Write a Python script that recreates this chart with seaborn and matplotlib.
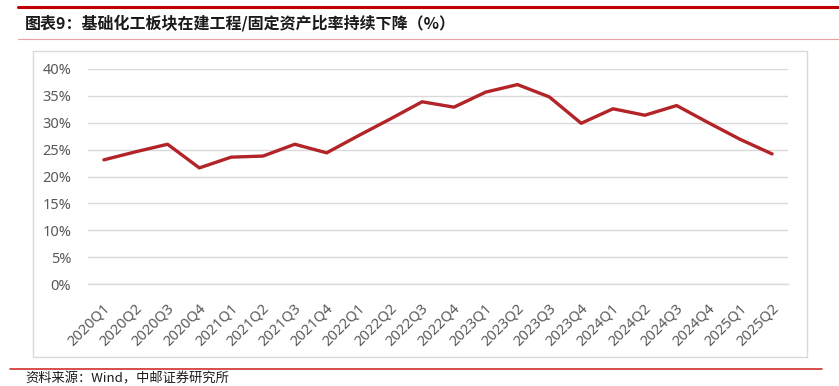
import matplotlib
matplotlib.use('Agg')
import matplotlib.pyplot as plt
import matplotlib.transforms as mtransforms
from matplotlib.patches import Rectangle
from matplotlib.lines import Line2D
from matplotlib.ticker import FuncFormatter, FixedLocator
import seaborn as sns
import pandas as pd

# 数据：基础化工板块在建工程/固定资产比率（%）
quarters = ['2020Q1', '2020Q2', '2020Q3', '2020Q4', '2021Q1', '2021Q2', '2021Q3', '2021Q4',
            '2022Q1', '2022Q2', '2022Q3', '2022Q4', '2023Q1', '2023Q2', '2023Q3', '2023Q4',
            '2024Q1', '2024Q2', '2024Q3', '2024Q4', '2025Q1', '2025Q2']
ratio = [23.1, 24.6, 26.0, 21.6, 23.6, 23.8, 26.0, 24.4,
         27.6, 30.7, 33.9, 32.9, 35.7, 37.1, 34.8, 29.9,
         32.6, 31.4, 33.2, 30.0, 26.9, 24.2]
y_ticks = [0, 5, 10, 15, 20, 25, 30, 35, 40]

title = '图表9：基础化工板块在建工程/固定资产比率持续下降（%）'
source = '资料来源：Wind，中邮证券研究所'

df = pd.DataFrame({'quarter': quarters, 'ratio': ratio})
df['pos'] = range(len(df))

sns.set_style('white')
plt.rcParams['font.family'] = ['Noto Sans', 'Noto Sans CJK SC', 'DejaVu Sans']

W, H = 839, 386
fig = plt.figure(figsize=(W / 100, H / 100), dpi=100)

# 外框和装饰线
fig.add_artist(Rectangle((33 / W, 1 - 357 / H), (807 - 33) / W, (357 - 51) / H,
                         transform=fig.transFigure, fill=False, edgecolor='#D9D9D9', lw=1))
fig.add_artist(Line2D([18 / W, 1], [1 - 7 / H] * 2, transform=fig.transFigure, color='#C00000', lw=2.2))
fig.add_artist(Line2D([18 / W, 1], [1 - 39 / H] * 2, transform=fig.transFigure, color='#E8A0A0', lw=0.8))
fig.add_artist(Line2D([10 / W, 822 / W], [1 - 369 / H] * 2, transform=fig.transFigure, color='#D03030', lw=1.2))

fig.text(25 / W, 1 - 23 / H, title, fontsize=11.5, fontweight='bold', color='#1A1A1A',
         family=['Noto Sans CJK SC', 'DejaVu Sans'], va='center', ha='left')
fig.text(25 / W, 1 - 373 / H, source, fontsize=9.5, color='#1A1A1A',
         family=['Noto Sans CJK SC', 'DejaVu Sans'], va='top', ha='left')

ax = fig.add_axes([88 / W, 1 - 284 / H, (788 - 88) / W, (284 - 69) / H])
sns.lineplot(data=df, x='pos', y='ratio', ax=ax, color='#B22428', lw=2.4)

ax.set_xlim(-0.5, len(quarters) - 0.5)
ax.set_ylim(0, 40)
ax.set_yticks(y_ticks)
ax.yaxis.set_major_formatter(FuncFormatter(lambda v, p: f'{v:.0f}%'))
ax.grid(axis='y', color='#D9D9D9', lw=1)
ax.set_axisbelow(True)
for s in ['top', 'right', 'left']:
    ax.spines[s].set_visible(False)
ax.spines['bottom'].set_color('#D9D9D9')
ax.spines['bottom'].set_linewidth(1)

ax.set_xticks(df['pos'])
ax.set_xticklabels(quarters, rotation=45, ha='right', va='center', rotation_mode='anchor')
ax.xaxis.set_minor_locator(FixedLocator([i - 0.5 for i in range(len(quarters) + 1)]))
ax.tick_params(axis='x', which='major', length=0, labelsize=10.5, labelcolor='#595959', pad=0)
ax.tick_params(axis='x', which='minor', length=5, color='#D9D9D9', width=1, direction='out')
ax.tick_params(axis='y', length=0, labelsize=10.5, labelcolor='#595959', pad=12)
ax.set_xlabel('')
ax.set_ylabel('')

offset = mtransforms.ScaledTranslation(4 / 100, -22 / 100, fig.dpi_scale_trans)
for lbl in ax.get_xticklabels():
    lbl.set_transform(lbl.get_transform() + offset)

fig.savefig('out.png', dpi=100)
